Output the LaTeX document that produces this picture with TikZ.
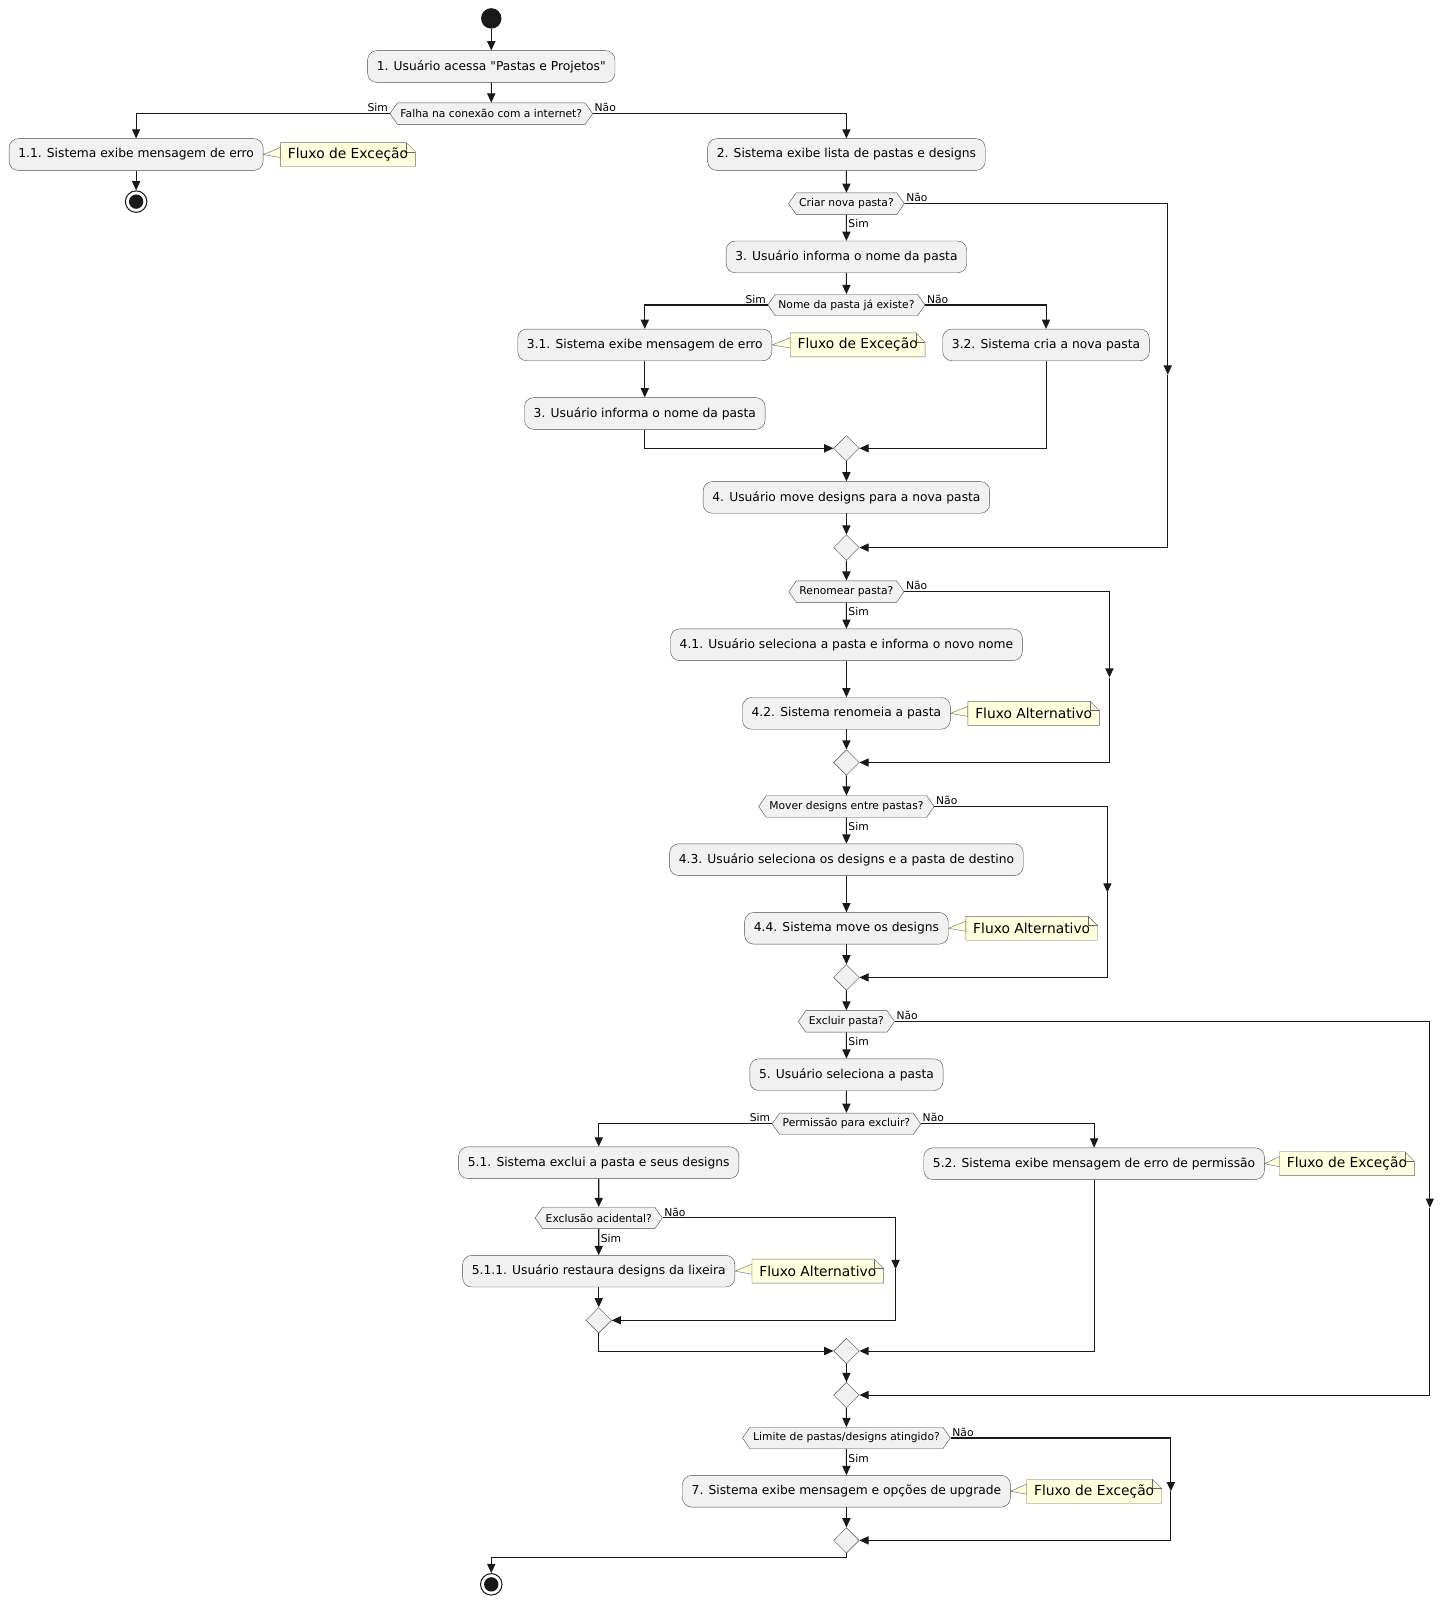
\documentclass[tikz,border=0pt]{standalone}
\usepackage{fontspec}
\setmainfont{DejaVu Sans}
\newfontfamily\plainfont{DejaVu Sans}
\usetikzlibrary{shapes.geometric,shapes.symbols,arrows.meta,backgrounds}
\definecolor{actbg}{HTML}{F1F1F1}
\definecolor{noteyel}{HTML}{FEFFDD}
\tikzset{x=1pt,y=1pt,
act/.style={draw=black!70,fill=actbg,rounded corners=9pt,minimum height=31pt,inner xsep=9pt,font=\fontsize{12}{14}\selectfont},
dec/.style={draw=black!70,fill=actbg,signal,signal to=east and west,signal pointer angle=110,minimum height=21pt,inner xsep=3pt,inner ysep=1pt,font=\fontsize{10.5}{12}\selectfont},
mrg/.style={draw=black!70,fill=actbg,diamond,minimum size=25pt,inner sep=0pt},
notebox/.style={font=\fontsize{13.5}{15}\selectfont,minimum height=23pt,inner xsep=7pt},
lab/.style={font=\fontsize{10.5}{12}\selectfont,inner sep=1.5pt},
flow/.style={draw=black!90,line width=1pt,-{Triangle[length=9pt,width=8pt]}},
ln/.style={draw=black!90,line width=1pt}
}
\newcommand{\mynote}[5]{%
\node[notebox] (#1) at (#3,#4) {#5\hspace{6pt}};
\begin{scope}[on background layer]
\filldraw[draw=black!60,fill=noteyel] (#2.east) -- ([yshift=7pt]#1.west) -- ([yshift=-3pt]#1.west) -- cycle;
\filldraw[draw=black!60,fill=noteyel] (#1.north west) -- ([xshift=-9pt]#1.north east) -- ([yshift=-9pt]#1.north east) -- (#1.south east) -- (#1.south west) -- cycle;
\draw[black!60] ([xshift=-9pt]#1.north east) -- ([xshift=-9pt,yshift=-9pt]#1.north east) -- ([yshift=-9pt]#1.north east);
\end{scope}}
\begin{document}
\begin{tikzpicture}
\useasboundingbox (0,0) rectangle (1420.6,-1567.2);
\fill[black!90] (480,-18) circle (10) coordinate (start);
\node[act] (a1) at (480,-65) {\plainfont 1. Usuário acessa "Pastas e Projetos"};
\node[dec] (d1) at (480,-111) {Falha na conexão com a internet?};
\node[act] (a11) at (133,-151) {1.1. Sistema exibe mensagem de erro};
\mynote{n11}{a11}{340}{-151}{Fluxo de Exceção}
\node[circle,draw=black!90,line width=1pt,minimum size=21pt,inner sep=0] (stop1) at (133,-197) {};
\fill[black!90] (stop1) circle (7);
\node[act] (a2) at (827,-151) {2. Sistema exibe lista de pastas e designs};
\node[dec] (d2) at (827,-199) {Criar nova pasta?};
\node[act] (a3) at (827,-251) {3. Usuário informa o nome da pasta};
\node[dec] (d3) at (827,-298) {Nome da pasta já existe?};
\node[act] (a31) at (630,-337) {3.1. Sistema exibe mensagem de erro};
\mynote{n31}{a31}{838}{-337}{Fluxo de Exceção}
\node[act] (a3b) at (630,-404) {3. Usuário informa o nome da pasta};
\node[act] (a32) at (1022,-337) {3.2. Sistema cria a nova pasta};
\node[mrg] (m3) at (827,-438) {};
\node[act] (a4) at (827,-486) {4. Usuário move designs para a nova pasta};
\node[mrg] (m2) at (827,-535) {};
\node[dec] (d4) at (827,-578) {Renomear pasta?};
\node[act] (a41) at (827,-630) {4.1. Usuário seleciona a pasta e informa o novo nome};
\node[act] (a42) at (827,-697) {4.2. Sistema renomeia a pasta};
\mynote{n42}{a42}{1010}{-697}{Fluxo Alternativo}
\node[mrg] (m4) at (827,-745) {};
\node[dec] (d5) at (827,-788) {Mover designs entre pastas?};
\node[act] (a43) at (827,-840) {4.3. Usuário seleciona os designs e a pasta de destino};
\node[act] (a44) at (827,-907) {4.4. Sistema move os designs};
\mynote{n44}{a44}{1008}{-907}{Fluxo Alternativo}
\node[mrg] (m5) at (827,-955) {};
\node[dec] (d6) at (827,-998) {Excluir pasta?};
\node[act] (a5) at (827,-1050) {5. Usuário seleciona a pasta};
\node[dec] (d7) at (827,-1098) {Permissão para excluir?};
\node[act] (a51) at (585,-1136) {5.1. Sistema exclui a pasta e seus designs};
\node[dec] (d8) at (585,-1190) {Exclusão acidental?};
\node[act] (a511) at (585,-1242) {5.1.1. Usuário restaura designs da lixeira};
\mynote{n511}{a511}{799}{-1242}{Fluxo Alternativo}
\node[mrg] (m8) at (585,-1290) {};
\node[act] (a52) at (1069,-1137) {5.2. Sistema exibe mensagem de erro de permissão};
\mynote{n52}{a52}{1316}{-1137}{Fluxo de Exceção}
\node[mrg] (m7) at (827,-1320) {};
\node[mrg] (m6) at (827,-1363) {};
\node[dec] (d9) at (827,-1405) {Limite de pastas/designs atingido?};
\node[act] (a7) at (827,-1457) {7. Sistema exibe mensagem e opções de upgrade};
\mynote{n7}{a7}{1069}{-1457}{Fluxo de Exceção}
\node[mrg] (m9) at (827,-1505) {};
\node[circle,draw=black!90,line width=1pt,minimum size=21pt,inner sep=0] (stop2) at (480,-1548) {};
\fill[black!90] (stop2) circle (7);
% connectors
\draw[flow] (start) ++(0,-10) -- (a1);
\draw[flow] (a1) -- (d1);
\draw[flow] (d1.west) -| (a11.north);
\node[lab,anchor=south east] at (d1.west) {Sim};
\draw[flow] (d1.east) -| (a2.north);
\node[lab,anchor=south west] at (d1.east) {Não};
\draw[flow] (a11) -- (stop1);
\draw[flow] (a2) -- (d2);
\draw[flow] (d2) -- (a3) node[lab,pos=0.35,right] {Sim};
\node[lab,anchor=south west] at (d2.east) {Não};
\draw[flow] (d2.east) -| (1141,-366);
\draw[flow] (1141,-366) |- (m2.east);
\draw[flow] (a3) -- (d3);
\draw[flow] (d3.west) -| (a31.north);
\node[lab,anchor=south east] at (d3.west) {Sim};
\draw[flow] (d3.east) -| (a32.north);
\node[lab,anchor=south west] at (d3.east) {Não};
\draw[flow] (a31) -- (a3b);
\draw[flow] (a3b.south) |- (m3.west);
\draw[flow] (a32.south) |- (m3.east);
\draw[flow] (m3) -- (a4);
\draw[flow] (a4) -- (m2);
\draw[flow] (m2) -- (d4);
\draw[flow] (d4) -- (a41) node[lab,pos=0.35,right] {Sim};
\node[lab,anchor=south west] at (d4.east) {Não};
\draw[flow] (d4.east) -| (1084,-662);
\draw[flow] (1084,-662) |- (m4.east);
\draw[flow] (a41) -- (a42);
\draw[flow] (a42) -- (m4);
\draw[flow] (m4) -- (d5);
\draw[flow] (d5) -- (a43) node[lab,pos=0.35,right] {Sim};
\node[lab,anchor=south west] at (d5.east) {Não};
\draw[flow] (d5.east) -| (1082,-872);
\draw[flow] (1082,-872) |- (m5.east);
\draw[flow] (a43) -- (a44);
\draw[flow] (a44) -- (m5);
\draw[flow] (m5) -- (d6);
\draw[flow] (d6) -- (a5) node[lab,pos=0.35,right] {Sim};
\node[lab,anchor=south west] at (d6.east) {Não};
\draw[flow] (d6.east) -| (1397,-1180);
\draw[flow] (1397,-1180) |- (m6.east);
\draw[flow] (a5) -- (d7);
\draw[flow] (d7.west) -| (a51.north);
\node[lab,anchor=south east] at (d7.west) {Sim};
\draw[flow] (d7.east) -| (a52.north);
\node[lab,anchor=south west] at (d7.east) {Não};
\draw[flow] (a51) -- (d8);
\draw[flow] (d8) -- (a511) node[lab,pos=0.35,right] {Sim};
\node[lab,anchor=south west] at (d8.east) {Não};
\draw[flow] (d8.east) -| (875,-1240);
\draw[flow] (875,-1240) |- (m8.east);
\draw[flow] (a511) -- (m8);
\draw[flow] (m8.south) |- (m7.west);
\draw[flow] (a52.south) |- (m7.east);
\draw[flow] (m7) -- (m6);
\draw[flow] (m6) -- (d9);
\draw[flow] (d9) -- (a7) node[lab,pos=0.35,right] {Sim};
\node[lab,anchor=south west] at (d9.east) {Não};
\draw[flow] (d9.east) -| (1144,-1457);
\draw[flow] (1144,-1457) |- (m9.east);
\draw[flow] (a7) -- (m9);
\draw[flow] (m9.south) |- (480,-1522) -- (stop2.north);
\end{tikzpicture}
\end{document}
